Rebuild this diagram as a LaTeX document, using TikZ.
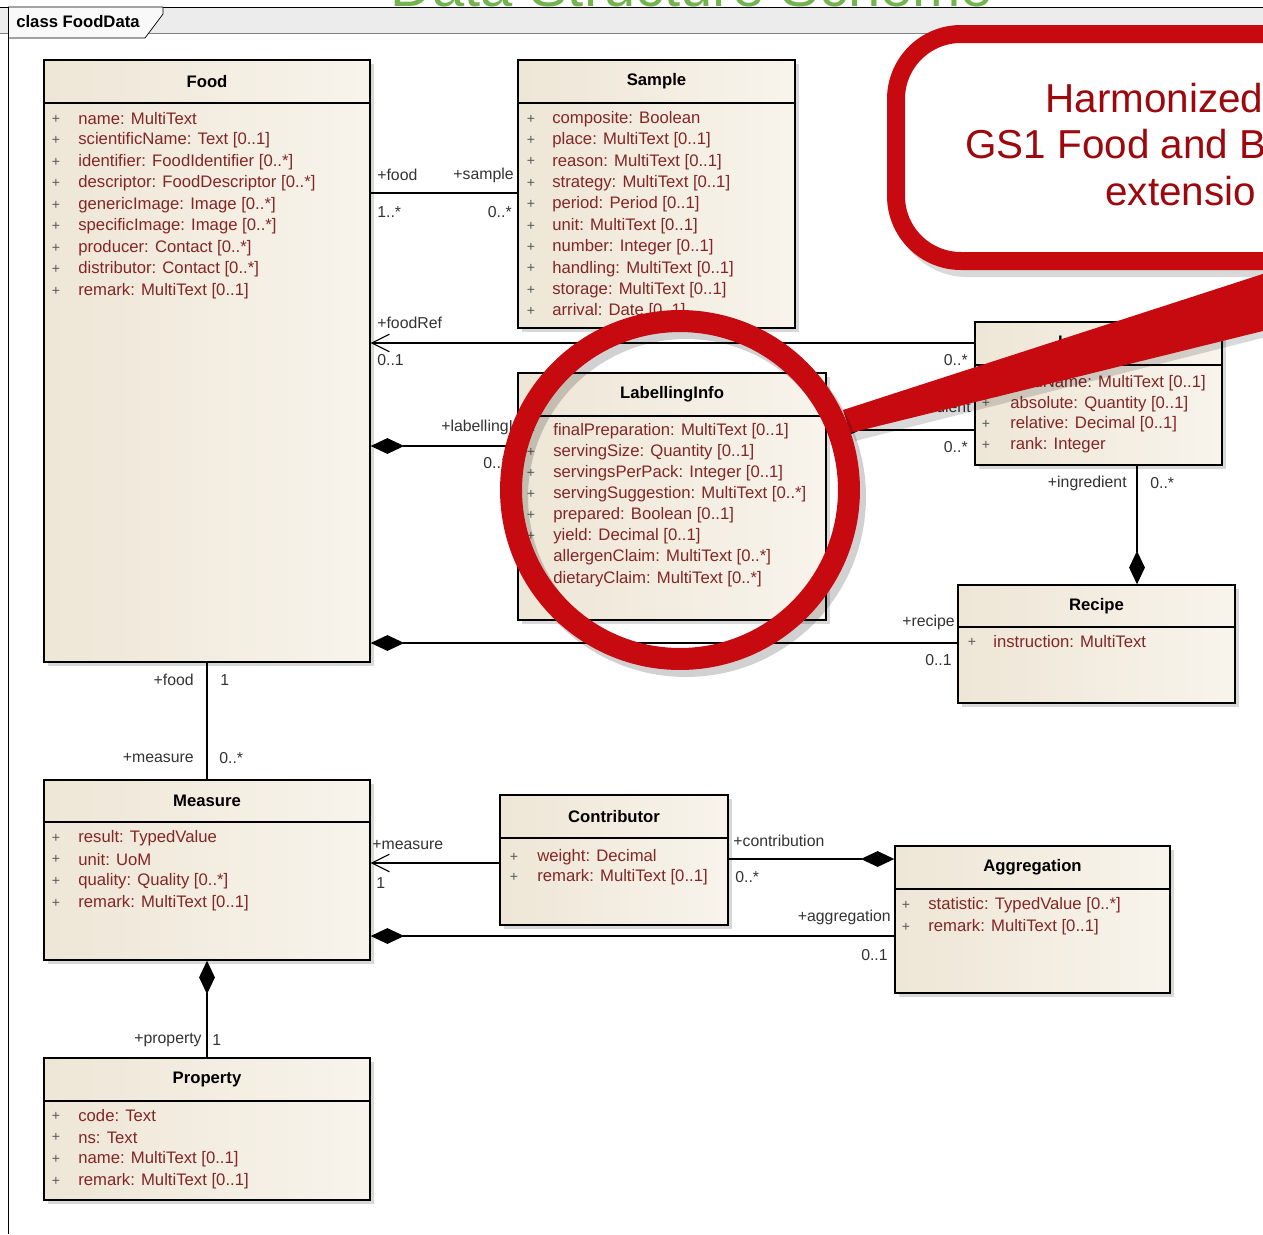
\documentclass[tikz,border=0pt]{standalone}
\usepackage{fontspec}
\setmainfont{Liberation Sans}
\usetikzlibrary{arrows.meta,fit,shadows}

\definecolor{boxfill}{RGB}{248,244,236}
\definecolor{boxedge}{RGB}{238,230,214}
\definecolor{attrred}{RGB}{130,38,38}
\definecolor{calloutred}{RGB}{198,10,16}
\definecolor{titlegreen}{RGB}{116,180,80}
\definecolor{bandgray}{RGB}{236,236,236}

\tikzset{
  cls/.style={draw=black, line width=0.8pt, inner sep=0pt, left color=boxedge, right color=boxfill,
    drop shadow={shadow xshift=2.5pt, shadow yshift=-2.5pt, opacity=0.3}},
  clsname/.style={font=\fontsize{9.5}{11}\selectfont\bfseries, inner sep=0pt},
  attr/.style={anchor=west, text=attrred, font=\fontsize{9.5}{11}\selectfont, inner sep=0pt},
  vis/.style={text=black!65, font=\fontsize{8}{9}\selectfont, inner sep=0pt},
  role/.style={text=black!80, font=\fontsize{9}{10}\selectfont, inner sep=0pt},
  assoc/.style={line width=0.7pt},
  comp/.style={assoc, {Diamond[length=19pt,width=9pt]}-},
  nav/.style={assoc, {Straight Barb[length=10pt,width=10pt,line width=0.6pt]}-},
  callout txt/.style={text=calloutred!80!black, font=\fontsize{23}{26}\selectfont, anchor=base west, inner sep=0pt},
}

% #1 name, #2-#5 corners, #6 header height, #7 title
\newcommand{\umlclass}[7]{%
  \node[cls, fit={(#2,#3) (#4,#5)}] (#1) {};
  \draw[line width=0.8pt] (#2,#3+#6) -- (#4,#3+#6);
  \node[clsname] (#1-title) at ({(#2+#4)/2},{#3+#6/2}) {#7};}
% #1 name, #2 plus x, #3 text x, #4 first y, #5 step, #6 list
\newcommand{\umlattrs}[6]{%
  \foreach \t [count=\i] in {#6} {
    \node[vis] (#1-p\i) at (#2,{#4+#5*(\i-1)}) {+};
    \node[attr] (#1-a\i) at (#3,{#4+#5*(\i-1)}) {\t};}}

\begin{document}
\begin{tikzpicture}[x=0.02cm, y=-0.02cm]
\useasboundingbox (0,0) rectangle (1263,1234); \clip (0,0) rectangle (1263,1234);
\fill[white] (0,0) rectangle (1263,1234);

% frame and tab
\fill[bandgray] (0,7) rectangle (1263,33); \draw[gray] (0,33) -- (1263,33); \draw (0,7) -- (1263,7);
\node[text=titlegreen, font=\fontsize{33}{33}\selectfont, anchor=base, inner sep=0pt] (title) at (692,6) {Data Structure Scheme};
\draw[fill=white!95!gray] (8,7) -- (163,7) -- (163,14) -- (145,38) -- (8,38);
\draw (8,7) -- (8,1234);
\node[font=\fontsize{9.5}{11}\selectfont\bfseries, inner sep=0pt] (tab) at (78,22) {class FoodData};

% role names and multiplicities
\foreach \x/\y/\a/\t [count=\k] in {377/175/west/+food, 377/212/west/1..*, 514/175/east/+sample, 512/212/east/0..*,
  377/323/west/+foodRef, 377/360/west/0..1, 968/360/east/0..*, 441/427/west/+labellingInfo, 483/463/west/0..1,
  971/408/east/+ingredient, 968/447/east/0..*, 1127/483/east/+ingredient, 1150/483/west/0..*,
  955/622/east/+recipe, 952/660/east/0..1, 194/680/east/+food, 220/680/west/1, 194/758/east/+measure, 219/758/west/0..*,
  372/845/west/+measure, 376/883/west/1, 733/841/west/+contribution, 735/877/west/0..*,
  891/917/east/+aggregation, 888/955/east/0..1, 202/1040/east/+property, 212/1040/west/1}
  \node[role, anchor=\a] (lab\k) at (\x,\y) {\t};

% classes
\umlclass{food}{44}{60}{370}{662}{43}{Food}
\umlattrs{food}{56}{78}{119}{21.5}{{name: MultiText}, {scientificName: Text [0..1]}, {identifier: FoodIdentifier [0..*]}, {descriptor: FoodDescriptor [0..*]}, {genericImage: Image [0..*]}, {specificImage: Image [0..*]}, {producer: Contact [0..*]}, {distributor: Contact [0..*]}, {remark: MultiText [0..1]}}
\umlclass{sample}{518}{60}{795}{328}{43}{Sample}
\umlattrs{sample}{531}{552}{119}{21.4}{{composite: Boolean}, {place: MultiText [0..1]}, {reason: MultiText [0..1]}, {strategy: MultiText [0..1]}, {period: Period [0..1]}, {unit: MultiText [0..1]}, {number: Integer [0..1]}, {handling: MultiText [0..1]}, {storage: MultiText [0..1]}, {arrival: Date [0..1]}}
\umlclass{labelling}{518}{373}{826}{620}{43}{LabellingInfo}
\umlattrs{labelling}{531}{553}{431}{21.1}{{finalPreparation: MultiText [0..1]}, {servingSize: Quantity [0..1]}, {servingsPerPack: Integer [0..1]}, {servingSuggestion: MultiText [0..*]}, {prepared: Boolean [0..1]}, {yield: Decimal [0..1]}, {allergenClaim: MultiText [0..*]}, {dietaryClaim: MultiText [0..*]}}
\umlclass{ingredient}{975}{322}{1222}{465}{43}{Ingredient}
\umlattrs{ingredient}{986}{1010}{383}{20.7}{{foodName: MultiText [0..1]}, {absolute: Quantity [0..1]}, {relative: Decimal [0..1]}, {rank: Integer}}
\umlclass{recipe}{958}{585}{1235}{703}{42}{Recipe}
\umlattrs{recipe}{972}{993}{642}{21}{{instruction: MultiText}}
\umlclass{measure}{44}{780}{370}{960}{42}{Measure}
\umlattrs{measure}{56}{78}{838}{21.7}{{result: TypedValue}, {unit: UoM}, {quality: Quality [0..*]}, {remark: MultiText [0..1]}}
\umlclass{contributor}{500}{795}{728}{925}{43}{Contributor}
\umlattrs{contributor}{514}{537}{857}{20}{{weight: Decimal}, {remark: MultiText [0..1]}}
\umlclass{aggregation}{895}{846}{1170}{993}{43}{Aggregation}
\umlattrs{aggregation}{906}{928}{905}{22}{{statistic: TypedValue [0..*]}, {remark: MultiText [0..1]}}
\umlclass{property}{44}{1058}{370}{1200}{43}{Property}
\umlattrs{property}{56}{78}{1116}{21.7}{{code: Text}, {ns: Text}, {name: MultiText [0..1]}, {remark: MultiText [0..1]}}

% connectors
\coordinate (rowSample) at (0,193); \coordinate (rowRef) at (0,343); \coordinate (rowLab) at (0,446);
\coordinate (rowIng) at (0,430); \coordinate (rowRecipe) at (0,643); \coordinate (colIng) at (1137,0);
\coordinate (rowContrib) at (0,863); \coordinate (rowAggr) at (0,859); \coordinate (rowMA) at (0,936);
\draw[assoc] (food.east |- rowSample) -- (sample.west |- rowSample);
\draw[nav] (food.east |- rowRef) -- (ingredient.west |- rowRef);
\draw[comp] (food.east |- rowLab) -- (labelling.west |- rowLab);
\draw[comp] (labelling.east |- rowIng) -- (ingredient.west |- rowIng);
\draw[comp] (recipe.north -| colIng) -- (ingredient.south -| colIng);
\draw[comp] (food.east |- rowRecipe) -- (recipe.west |- rowRecipe);
\draw[assoc] (food.south) -- (measure.north);
\draw[nav] (measure.east |- rowContrib) -- (contributor.west |- rowContrib);
\draw[comp] (aggregation.west |- rowAggr) -- (contributor.east |- rowAggr);
\draw[comp] (measure.east |- rowMA) -- (aggregation.west |- rowMA);
\draw[comp] (measure.south) -- (property.north);

% red highlight
\draw[black, opacity=0.15, line width=0.36cm, rounded corners=1.3cm] (902,41) rectangle (1340,268);
\draw[calloutred, fill=white, line width=0.36cm, rounded corners=1.3cm] (896,34) rectangle (1335,261);
\node[callout txt] (hl1) at (1045,112) {Harmonized};
\node[callout txt] (hl2) at (965,158) {GS1 Food and B};
\node[callout txt] (hl3) at (1105,205) {extensio};
\fill[black, opacity=0.15] (848,418) -- (1270,290) -- (1270,336) -- (855,441) -- cycle;
\fill[calloutred] (843,410) -- (1275,270) -- (1275,328) -- (850,433) -- cycle;
\draw[black, opacity=0.18, line width=0.44cm] (686,497) circle (3.38cm);
\draw[calloutred, line width=0.44cm] (680,490) circle (3.38cm);
\end{tikzpicture}
\end{document}
